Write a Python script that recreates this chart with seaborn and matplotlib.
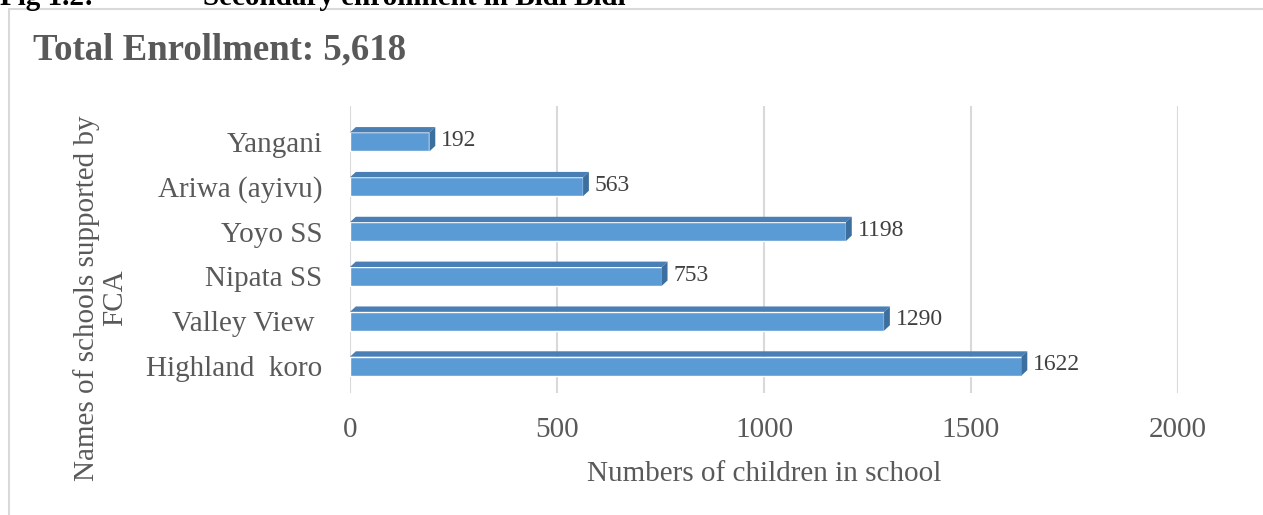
import matplotlib
matplotlib.use("Agg")
import matplotlib.pyplot as plt
import seaborn as sns
import pandas as pd
from matplotlib.patches import Polygon, Rectangle

schools = ["Yangani", "Ariwa (ayivu)", "Yoyo SS", "Nipata SS", "Valley View ", "Highland  koro"]
children = [192, 563, 1198, 753, 1290, 1622]
x_ticks = [0, 500, 1000, 1500, 2000]

sns.set_theme(style="white")
plt.rcParams["font.family"] = ["Liberation Serif", "DejaVu Serif"]

GREY = "#595959"
FRONT = "#5B9BD5"
TOP = "#4A7FB6"
SIDE = "#3C6E9E"

df = pd.DataFrame({"school": schools, "children": children})

fig = plt.figure(figsize=(12.63, 5.15), dpi=100)
ax = fig.add_axes([350 / 1263, 1 - 393 / 515, 828 / 1263, 287 / 515])

# chart frame
fig.patches.append(Rectangle((9 / 1263, -0.05), 1.1, 1 - 9 / 515 + 0.05,
                             transform=fig.transFigure, fill=False,
                             edgecolor="#D9D9D9", linewidth=1.5))

for t in x_ticks:
    ax.axvline(t, color="#D9D9D9", linewidth=1.5, zorder=0)

sns.barplot(data=df, x="children", y="school", orient="h", color=FRONT,
            width=0.42, saturation=1, ax=ax, zorder=2)

ax.set_xlim(x_ticks[0], x_ticks[-1])
ax.set_ylim(5.6, -0.8)

# pseudo-3D depth derived from each bar patch
dx = 14.0
dy = 0.12
for p, v in zip(ax.patches, children):
    x0 = p.get_x()
    x1 = x0 + p.get_width()
    yt = min(p.get_y(), p.get_y() + p.get_height())
    yb = max(p.get_y(), p.get_y() + p.get_height())
    ax.add_patch(Polygon([(x0, yt), (x1, yt), (x1 + dx, yt - dy), (x0 + dx, yt - dy)],
                         closed=True, facecolor=TOP, edgecolor="none", zorder=3))
    ax.add_patch(Polygon([(x1, yt), (x1 + dx, yt - dy), (x1 + dx, yb - dy), (x1, yb)],
                         closed=True, facecolor=SIDE, edgecolor="none", zorder=3))
    ax.text(x1 + 28, (yt + yb) / 2 - 0.03, f"{v}", va="center", ha="left",
            fontsize=17, color="#404040")

for s in ax.spines.values():
    s.set_visible(False)

ax.set_xticks(x_ticks)
ax.set_xticklabels([str(t) for t in x_ticks])
ax.tick_params(axis="x", length=0, pad=17, labelsize=21, labelcolor=GREY)
ax.tick_params(axis="y", length=0, pad=20, labelsize=21, labelcolor=GREY)

ax.set_xlabel("Numbers of children in school", fontsize=21, color=GREY, labelpad=13)
ax.set_ylabel("Names of schools supported by\nFCA", fontsize=21, color=GREY,
              linespacing=1.1)
ax.yaxis.set_label_coords((128 - 350) / 828, (393 - 298) / 287)

fig.text(33 / 1263, 1 - 50 / 515, "Total Enrollment: 5,618", fontsize=26.5,
         fontweight="bold", color=GREY, va="center", ha="left")

fig.text(0, 1 - 5 / 515, "Fig 1.2:", fontsize=21, fontweight="bold",
         color="black", va="baseline", ha="left")
fig.text(203 / 1263, 1 - 5 / 515, "Secondary enrollment in Bidi Bidi", fontsize=21,
         fontweight="bold", color="black", va="baseline", ha="left")

fig.savefig("out.png", dpi=100)
